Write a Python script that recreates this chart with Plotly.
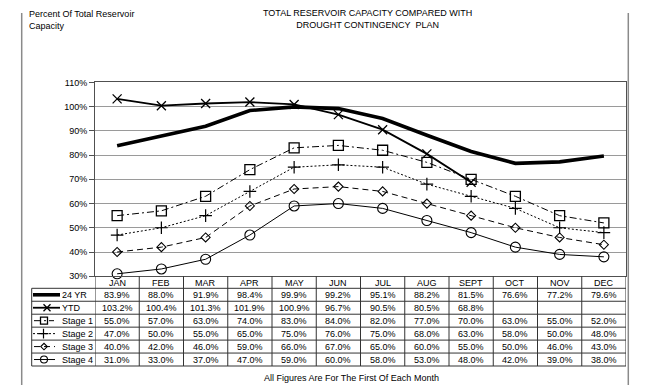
import plotly.graph_objects as go

W, H = 650, 390
OFF = 8  # page body margin offset in the browser
FW, FH = W - OFF, H - OFF
months = ["JAN", "FEB", "MAR", "APR", "MAY", "JUN", "JUL", "AUG", "SEPT", "OCT", "NOV", "DEC"]
yr24 = [83.9, 88.0, 91.9, 98.4, 99.9, 99.2, 95.1, 88.2, 81.5, 76.6, 77.2, 79.6]
ytd = [103.2, 100.4, 101.3, 101.9, 100.9, 96.7, 90.5, 80.5, 68.8, None, None, None]
stage1 = [55.0, 57.0, 63.0, 74.0, 83.0, 84.0, 82.0, 77.0, 70.0, 63.0, 55.0, 52.0]
stage2 = [47.0, 50.0, 55.0, 65.0, 75.0, 76.0, 75.0, 68.0, 63.0, 58.0, 50.0, 48.0]
stage3 = [40.0, 42.0, 46.0, 59.0, 66.0, 67.0, 65.0, 60.0, 55.0, 50.0, 46.0, 43.0]
stage4 = [31.0, 33.0, 37.0, 47.0, 59.0, 60.0, 58.0, 53.0, 48.0, 42.0, 39.0, 38.0]
series_names = ["24 YR", "YTD", "Stage 1", "Stage 2", "Stage 3", "Stage 4"]
series_vals = [yr24, ytd, stage1, stage2, stage3, stage4]

FONT = "Liberation Sans, Arial, sans-serif"
# pixel layout helpers (screen pixel coordinates -> paper)
PL, PR, PT, PB = 95, 626, 79.3, 278.3
def px(x):
    return (x - OFF) / FW
def py(y):
    return 1 - (y - OFF) / FH

styles = [
    dict(line=dict(color="black", width=3.6), mode="lines", marker=dict()),
    dict(line=dict(color="black", width=1.8), mode="lines+markers",
         marker=dict(symbol="x-thin-open", size=9, color="black", line=dict(width=1.3, color="black"))),
    dict(line=dict(color="black", width=1, dash="7px,3px,2px,3px"), mode="lines+markers",
         marker=dict(symbol="square-open", size=10, color="black", line=dict(width=1.3, color="black"))),
    dict(line=dict(color="black", width=1, dash="2px,2px"), mode="lines+markers",
         marker=dict(symbol="cross-thin-open", size=9, color="black", line=dict(width=1.2, color="black"))),
    dict(line=dict(color="black", width=1, dash="6px,4px"), mode="lines+markers",
         marker=dict(symbol="diamond-open", size=7, color="black", line=dict(width=1.1, color="black"))),
    dict(line=dict(color="black", width=1), mode="lines+markers",
         marker=dict(symbol="circle-open", size=10, color="black", line=dict(width=1.1, color="black"))),
]

fig = go.Figure()
for name, vals, st in zip(series_names, series_vals, styles):
    fig.add_trace(go.Scatter(x=months, y=vals, name=name, mode=st["mode"], line=st["line"],
                             marker=st["marker"], showlegend=False, connectgaps=False,
                             xaxis="x", yaxis="y", cliponaxis=False))

# table geometry
HDR_TOP, HDR_BOT = PB, 290.7
ROW_H = 13.3
TBL_L = 31.7
row_tops = [HDR_BOT + ROW_H * k for k in range(7)]
row_centers = [HDR_BOT + ROW_H * (k + 0.5) for k in range(6)]
TBL_BOT = row_tops[-1]

shapes = []
line_col = "#333333"
for yt in row_tops:
    shapes.append(dict(type="line", xref="paper", yref="paper", x0=px(TBL_L), x1=px(PR),
                       y0=py(yt), y1=py(yt), line=dict(color=line_col, width=1)))
for k in range(13):
    shapes.append(dict(type="line", xref="x", yref="paper", x0=k - 0.5, x1=k - 0.5,
                       y0=py(HDR_TOP), y1=py(TBL_BOT), line=dict(color=line_col, width=1)))
shapes.append(dict(type="line", xref="paper", yref="paper", x0=px(TBL_L), x1=px(TBL_L),
                   y0=py(HDR_BOT), y1=py(TBL_BOT), line=dict(color=line_col, width=1)))
for xf in (21.7, 628.3):
    shapes.append(dict(type="line", xref="paper", yref="paper", x0=px(xf), x1=px(xf),
                       y0=0, y1=1, line=dict(color="#8a8a8a", width=1.5)))

annotations = []
for i, m in enumerate(months):
    annotations.append(dict(x=m, y=py((HDR_TOP + HDR_BOT) / 2 + 0.3), xref="x", yref="paper", text=m,
                            showarrow=False, font=dict(family=FONT, size=9, color="black"),
                            xanchor="center", yanchor="middle"))
for r, (name, vals) in enumerate(zip(series_names, series_vals)):
    yc = row_centers[r]
    for m, v in zip(months, vals):
        if v is None:
            continue
        annotations.append(dict(x=m, y=py(yc), xref="x", yref="paper", text=f"{v:.1f}%",
                                showarrow=False, font=dict(family=FONT, size=9, color="black"),
                                xanchor="center", yanchor="middle"))
    annotations.append(dict(x=px(60), y=py(yc), xref="paper", yref="paper", text=name,
                            showarrow=False, font=dict(family=FONT, size=9, color="black"),
                            xanchor="left", yanchor="middle"))

# legend keys in the label column (pixel-coordinate overlay axis)
key_spans = [(33, 60), (33, 60), (34, 54), (33, 57), (34, 55), (34, 55)]
key_mark_x = [46.5, 47, 44, 43.5, 44, 44]
key_sizes = [0, 7, 7, 7, 5, 7]
for r, st in enumerate(styles):
    yc = row_centers[r]
    x0, x1 = key_spans[r]
    fig.add_trace(go.Scatter(x=[x0, x1], y=[yc, yc], mode="lines", line=st["line"],
                             showlegend=False, xaxis="x2", yaxis="y2", hoverinfo="skip"))
    if st["mode"] != "lines":
        mk = dict(st["marker"])
        mk["size"] = key_sizes[r]
        fig.add_trace(go.Scatter(x=[key_mark_x[r]], y=[yc], mode="markers", marker=mk,
                                 showlegend=False, xaxis="x2", yaxis="y2", hoverinfo="skip"))

annotations.append(dict(x=px(26.5), y=py(15.5), xref="paper", yref="paper",
                        text="Percent Of Total Reservoir<br>Capacity", align="left",
                        showarrow=False, font=dict(family=FONT, size=9, color="black"),
                        xanchor="left", yanchor="middle"))
annotations.append(dict(x=px(367), y=py(14.5), xref="paper", yref="paper",
                        text="TOTAL RESERVOIR CAPACITY COMPARED WITH<br>DROUGHT CONTINGENCY  PLAN",
                        align="center", showarrow=False, font=dict(family=FONT, size=9, color="black"),
                        xanchor="center", yanchor="middle"))
annotations.append(dict(x=px(351.5), y=py(382.7), xref="paper", yref="paper",
                        text="All Figures Are For The First Of Each Month",
                        showarrow=False, font=dict(family=FONT, size=9, color="black"),
                        xanchor="center", yanchor="middle"))

fig.update_layout(
    width=FW, height=FH,
    margin=dict(l=0, r=0, t=0, b=0),
    paper_bgcolor="white",
    plot_bgcolor="rgba(0,0,0,0)",
    font=dict(family=FONT, size=9, color="black"),
    xaxis=dict(type="category", categoryorder="array", categoryarray=months,
               domain=[px(PL), px(PR)], range=[-0.5, 11.5], showticklabels=False,
               showgrid=False, showline=True, linecolor="#505050", linewidth=1,
               mirror=True, ticks="", zeroline=False),
    yaxis=dict(domain=[py(PB), py(PT)], range=[30, 110], dtick=10, tick0=30,
               ticksuffix="%", showgrid=True, gridcolor="#9a9a9a", gridwidth=1,
               showline=True, linecolor="#505050", linewidth=1, mirror=True,
               ticks="outside", ticklen=5, tickcolor="#505050",
               tickfont=dict(family=FONT, size=9, color="black"), zeroline=False),
    xaxis2=dict(domain=[0, 1], range=[OFF, W], visible=False, anchor="y2", fixedrange=True),
    yaxis2=dict(domain=[0, 1], range=[H, OFF], visible=False, anchor="x2", fixedrange=True),
    shapes=shapes,
    annotations=annotations,
)

fig.write_html("out.html")
